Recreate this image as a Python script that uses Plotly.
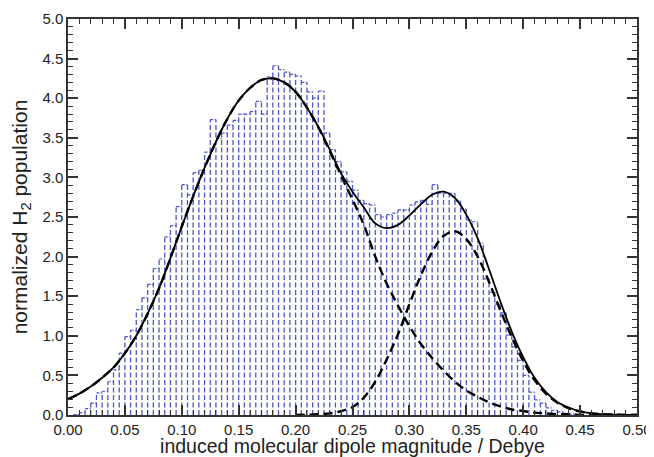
import plotly.graph_objects as go

# Histogram: bin width 0.005 from 0.00 to 0.45
bin_width = 0.005
hist_values = [
    0.00, 0.005, 0.03, 0.08, 0.15, 0.28, 0.30, 0.42, 0.57, 0.78,
    0.99, 1.07, 1.33, 1.48, 1.65, 1.85, 1.97, 2.25, 2.39, 2.63,
    2.91, 2.78, 3.06, 3.09, 3.32, 3.73, 3.49, 3.56, 3.66, 3.72,
    3.80, 3.80, 3.83, 3.96, 3.80, 4.27, 4.41, 4.36, 4.33, 4.30,
    4.28, 4.20, 4.08, 4.00, 4.09, 3.56, 3.35, 3.20, 3.07, 2.95,
    2.84, 2.71, 2.67, 2.65, 2.53, 2.50, 2.53, 2.55, 2.59, 2.59,
    2.65, 2.69, 2.71, 2.66, 2.91, 2.80, 2.80, 2.80, 2.70, 2.60,
    2.46, 2.44, 2.17, 1.72, 1.55, 1.40, 1.29, 1.01, 0.86, 0.69,
    0.50, 0.29, 0.19, 0.15, 0.09, 0.06, 0.04, 0.02, 0.01, 0.01,
]

curve_x = [round(0.01 * i, 2) for i in range(51)]
fit_total = [
    0.20, 0.27, 0.36, 0.47, 0.60, 0.78, 1.00, 1.28, 1.60, 1.98,
    2.38, 2.76, 3.12, 3.45, 3.74, 3.97, 4.13, 4.23, 4.25, 4.20,
    4.08, 3.88, 3.64, 3.35, 3.05, 2.82, 2.62, 2.42, 2.36, 2.40,
    2.52, 2.66, 2.78, 2.82, 2.74, 2.53, 2.23, 1.84, 1.43, 1.05,
    0.73, 0.47, 0.29, 0.165, 0.095, 0.045, 0.02, 0.01, 0.004, 0.0, 0.0,
]
fit_peak1 = [
    0.20, 0.27, 0.36, 0.47, 0.60, 0.78, 1.00, 1.28, 1.60, 1.98,
    2.38, 2.76, 3.12, 3.45, 3.74, 3.97, 4.13, 4.23, 4.25, 4.20,
    4.08, 3.88, 3.63, 3.33, 3.02, 2.72, 2.40, 2.00, 1.66, 1.38,
    1.12, 0.90, 0.72, 0.56, 0.42, 0.31, 0.23, 0.16, 0.11, 0.07,
    0.05, 0.03, 0.02, 0.01, 0.01, 0.0, 0.0, 0.0, 0.0, 0.0, 0.0,
]
peak2_x = [round(0.01 * i, 2) for i in range(20, 51)]
fit_peak2 = [
    0.0, 0.003, 0.01, 0.02, 0.05, 0.10, 0.22, 0.42, 0.70, 1.02,
    1.40, 1.76, 2.06, 2.26, 2.32, 2.22, 2.00, 1.68, 1.32, 0.98,
    0.68, 0.44, 0.27, 0.155, 0.085, 0.045, 0.02, 0.01, 0.004, 0.0, 0.0,
]

x_ticks = [0.00, 0.05, 0.10, 0.15, 0.20, 0.25, 0.30, 0.35, 0.40, 0.45, 0.50]
x_tick_labels = ["0.00", "0.05", "0.10", "0.15", "0.20", "0.25", "0.30", "0.35", "0.40", "0.45", "0.50"]
y_ticks = [0.0, 0.5, 1.0, 1.5, 2.0, 2.5, 3.0, 3.5, 4.0, 4.5, 5.0]
y_tick_labels = ["0.0", "0.5", "1.0", "1.5", "2.0", "2.5", "3.0", "3.5", "4.0", "4.5", "5.0"]

# Build histogram outline paths (dashed verticals at each bin edge, dashed tops)
n = len(hist_values)
edges = [round(bin_width * i, 4) for i in range(n + 1)]
vx, vy = [], []
for i, e in enumerate(edges):
    left = hist_values[i - 1] if i > 0 else 0.0
    right = hist_values[i] if i < n else 0.0
    h = max(left, right)
    if h <= 0:
        continue
    vx += [e, e, None]
    vy += [0, h, None]
tx, ty = [], []
for i in range(n):
    if hist_values[i] <= 0:
        continue
    tx += [edges[i], edges[i + 1], None]
    ty += [hist_values[i], hist_values[i], None]

hist_color = "#4c58c4"
font_family = "Liberation Sans, Arial, sans-serif"
fig = go.Figure()
fig.add_trace(go.Scatter(x=vx, y=vy, mode="lines", connectgaps=False,
                         line=dict(color=hist_color, width=1.3, dash="5px,2.5px"),
                         hoverinfo="skip", showlegend=False))
fig.add_trace(go.Scatter(x=tx, y=ty, mode="lines", connectgaps=False,
                         line=dict(color=hist_color, width=1.2, dash="3px,1.5px"),
                         hoverinfo="skip", showlegend=False))
fig.add_trace(go.Scatter(x=curve_x, y=fit_peak1, mode="lines",
                         line=dict(color="black", width=2.4, dash="9px,5px", shape="spline"),
                         showlegend=False))
fig.add_trace(go.Scatter(x=peak2_x, y=fit_peak2, mode="lines",
                         line=dict(color="black", width=2.4, dash="9px,5px", shape="spline"),
                         showlegend=False))
fig.add_trace(go.Scatter(x=curve_x, y=fit_total, mode="lines",
                         line=dict(color="black", width=1.8, shape="spline"),
                         showlegend=False))

axis_common = dict(
    showgrid=False, zeroline=False, showline=True, linecolor="#333333", linewidth=1.5,
    mirror="allticks", ticks="inside", tickcolor="#333333", tickwidth=1.5, ticklen=10,
    tickfont=dict(family=font_family, size=15, color="#222222"),
    automargin=False,
)
fig.update_xaxes(
    range=[0, 0.5], tickvals=x_ticks, ticktext=x_tick_labels,
    minor=dict(ticks="inside", dtick=0.01, ticklen=5, tickwidth=1.2, tickcolor="#333333"),
    title=dict(text="induced molecular dipole magnitude / Debye",
               font=dict(family=font_family, size=19.5, color="#222222"),
               standoff=1),
    **axis_common,
)
fig.update_yaxes(
    range=[0, 5], tickvals=y_ticks, ticktext=y_tick_labels,
    minor=dict(ticks="inside", dtick=0.1, ticklen=5, tickwidth=1.2, tickcolor="#333333"),
    title=dict(text="normalized H<sub>2</sub> population",
               font=dict(family=font_family, size=21, color="#222222"),
               standoff=22),
    **axis_common,
)
# The page body adds an 8px offset, so the figure is sized to keep the plot box
# at the reference position inside the 654x457 window.
fig.update_layout(
    width=646, height=449,
    margin=dict(l=60, r=17, t=11, b=42),
    paper_bgcolor="white", plot_bgcolor="white",
)
fig.write_html("out.html")
